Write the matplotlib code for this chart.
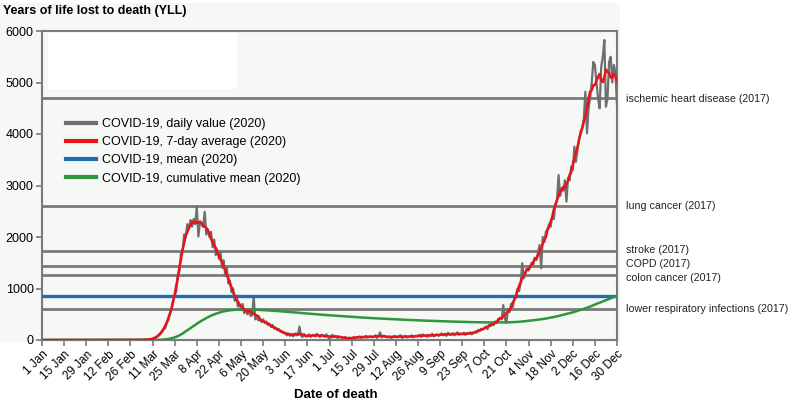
import matplotlib
matplotlib.use("Agg")
import matplotlib.pyplot as plt
from matplotlib.patches import Rectangle
import numpy as np
import pandas as pd

plt.rcParams["font.family"] = ["Liberation Sans", "DejaVu Sans"]

# Daily YLL from COVID-19 in 2020, one row per 14-day block
daily_yll = [
    0, 0, 0, 0, 0, 0, 0, 0, 0, 0, 0, 0, 0, 0,
    0, 0, 0, 0, 0, 0, 0, 0, 0, 0, 0, 0, 0, 0,
    0, 0, 0, 0, 0, 0, 0, 0, 0, 0, 0, 0, 0, 0,
    0, 0, 0, 0, 0, 0, 0, 0, 0, 0, 0, 0, 0, 0,
    0, 0, 0, 0, 0, 0, 0, 2, 4, 3, 6, 8, 10, 14,
    15, 28, 42, 70, 85, 125, 150, 210, 230, 330, 390, 500, 580, 740,
    860, 950, 1250, 1350, 1680, 1720, 2050, 2000, 2250, 2150, 2330, 2200, 2350, 2250,
    2590, 2010, 2300, 2250, 2200, 2490, 2050, 2150, 2000, 2100, 1800, 1950, 1650, 1750,
    1580, 1700, 1400, 1550, 1250, 1400, 1100, 1150, 930, 1000, 760, 860, 650, 700,
    600, 700, 520, 600, 500, 560, 470, 480, 841, 400, 450, 380, 420, 350,
    400, 330, 360, 290, 320, 250, 290, 220, 240, 190, 210, 160, 170, 130,
    140, 90, 130, 80, 120, 70, 110, 90, 100, 260, 80, 60, 100, 70,
    70, 110, 60, 90, 100, 70, 120, 80, 60, 100, 90, 70, 110, 60,
    10, 70, 100, 60, 80, 40, 70, 60, 50, 30, 60, 20, 40, 30,
    30, 50, 40, 60, 50, 70, 40, 60, 50, 80, 45, 60, 70, 55,
    60, 90, 40, 70, 150, 50, 80, 60, 70, 50, 70, 40, 60, 80,
    60, 50, 70, 90, 40, 60, 80, 50, 70, 60, 90, 50, 70, 80,
    70, 100, 60, 110, 80, 90, 60, 100, 80, 120, 70, 90, 110, 80,
    100, 130, 90, 120, 80, 140, 110, 100, 130, 90, 120, 150, 100, 120,
    110, 140, 100, 130, 120, 150, 110, 130, 160, 140, 190, 170, 220, 200,
    230, 260, 210, 300, 270, 330, 290, 360, 330, 380, 420, 400, 680, 420,
    330, 600, 540, 700, 640, 800, 820, 980, 950, 1100, 1490, 1200, 1280, 1380,
    1350, 1420, 1500, 1460, 1600, 1550, 1700, 1845, 1392, 2000, 1900, 2100, 2150, 2250,
    2200, 2400, 2350, 2650, 2700, 3204, 2800, 2950, 2900, 3100, 2686, 3150, 3100, 3365,
    3300, 3754, 3462, 3700, 3900, 4000, 4100, 4300, 4822, 4014, 4500, 4700, 5000, 5400,
    5340, 5000, 4700, 4499, 5300, 5500, 5825, 4530, 4700, 5400, 5500, 5000, 5340, 5200,
    4563,
]

# Reference causes (2017), years of life lost per day
ref_labels = ["ischemic heart disease (2017)", "lung cancer (2017)", "stroke (2017)",
              "COPD (2017)", "colon cancer (2017)", "lower respiratory infections (2017)"]
ref_values = [4690, 2600, 1730, 1440, 1260, 600]
ref_label_y = [4680, 2600, 1750, 1476, 1204, 602]

tick_labels = ["1 Jan", "15 Jan", "29 Jan", "12 Feb", "26 Feb", "11 Mar", "25 Mar",
               "8 Apr", "22 Apr", "6 May", "20 May", "3 Jun", "17 Jun", "1 Jul",
               "15 Jul", "29 Jul", "12 Aug", "26 Aug", "9 Sep", "23 Sep", "7 Oct",
               "21 Oct", "4 Nov", "18 Nov", "2 Dec", "16 Dec", "30 Dec"]

daily = pd.Series(daily_yll, dtype=float)
days = np.arange(len(daily))
avg7 = daily.rolling(7, center=True, min_periods=1).mean()
cum_mean = daily.expanding().mean()
year_mean = daily.mean()

GRAY = "#7a7a7a"
BG = "#f5f8f5"

fig = plt.figure(figsize=(7.92, 4.04), dpi=100)
W, H = 792, 404
# tinted panel behind the chart
fig.patches.append(Rectangle((0, 1 - 342 / H), 620 / W, 339 / H, transform=fig.transFigure,
                             facecolor=BG, edgecolor="none", zorder=-5))

ax = fig.add_axes([42 / W, 1 - 340 / H, 575 / W, 309 / H])
ax.set_facecolor(BG)

for v in ref_values:
    ax.axhline(v, color=GRAY, lw=2, zorder=2)

ax.plot(days, daily, color="#6f6f6f", lw=1.6, zorder=3, label="COVID-19, daily value (2020)")
ax.plot(days, avg7, color="#e8141c", lw=1.8, zorder=5, label="COVID-19, 7-day average (2020)")
ax.axhline(year_mean, color="#1f6db4", lw=2.4, zorder=4, label="COVID-19, mean (2020)")
ax.plot(days, cum_mean, color="#2e963c", lw=1.8, zorder=4, label="COVID-19, cumulative mean (2020)")

ax.set_xlim(0, 364)
ax.set_ylim(0, 6000)
ax.set_xticks(np.arange(0, 365, 14))
ax.set_xticklabels(tick_labels, rotation=45, ha="right", rotation_mode="anchor", fontsize=8.5)
ax.set_yticks(np.arange(0, 6001, 1000))
ax.tick_params(axis="y", labelsize=9, length=4, color=GRAY, width=1.2, pad=2)
ax.tick_params(axis="x", length=4, color=GRAY, width=1.2, pad=2)
for s in ax.spines.values():
    s.set_color(GRAY)
    s.set_linewidth(1.5)

for lab, y in zip(ref_labels, ref_label_y):
    ax.text(1.015, y, lab, transform=ax.get_yaxis_transform(), va="center", ha="left",
            fontsize=7.7, color="#222222")

# white box in the upper left corner
fig.patches.append(Rectangle((48 / W, 1 - 89 / H), 189 / W, 56 / H, transform=fig.transFigure,
                             facecolor="white", edgecolor="none", zorder=10))

leg = ax.legend(loc="upper left", bbox_to_anchor=(0.022, 0.755), frameon=False, fontsize=9,
                handlelength=2.4, handletextpad=0.5, labelspacing=0.5)
for line in leg.get_lines():
    line.set_linewidth(3)

fig.text(3 / W, 1 - 11 / H, "Years of life lost to death (YLL)", fontsize=9,
         fontweight="bold", va="center", ha="left")
fig.text(336 / W, 1 - 395 / H, "Date of death", fontsize=9.5, fontweight="bold",
         va="center", ha="center")

fig.savefig("out.png", dpi=100)
